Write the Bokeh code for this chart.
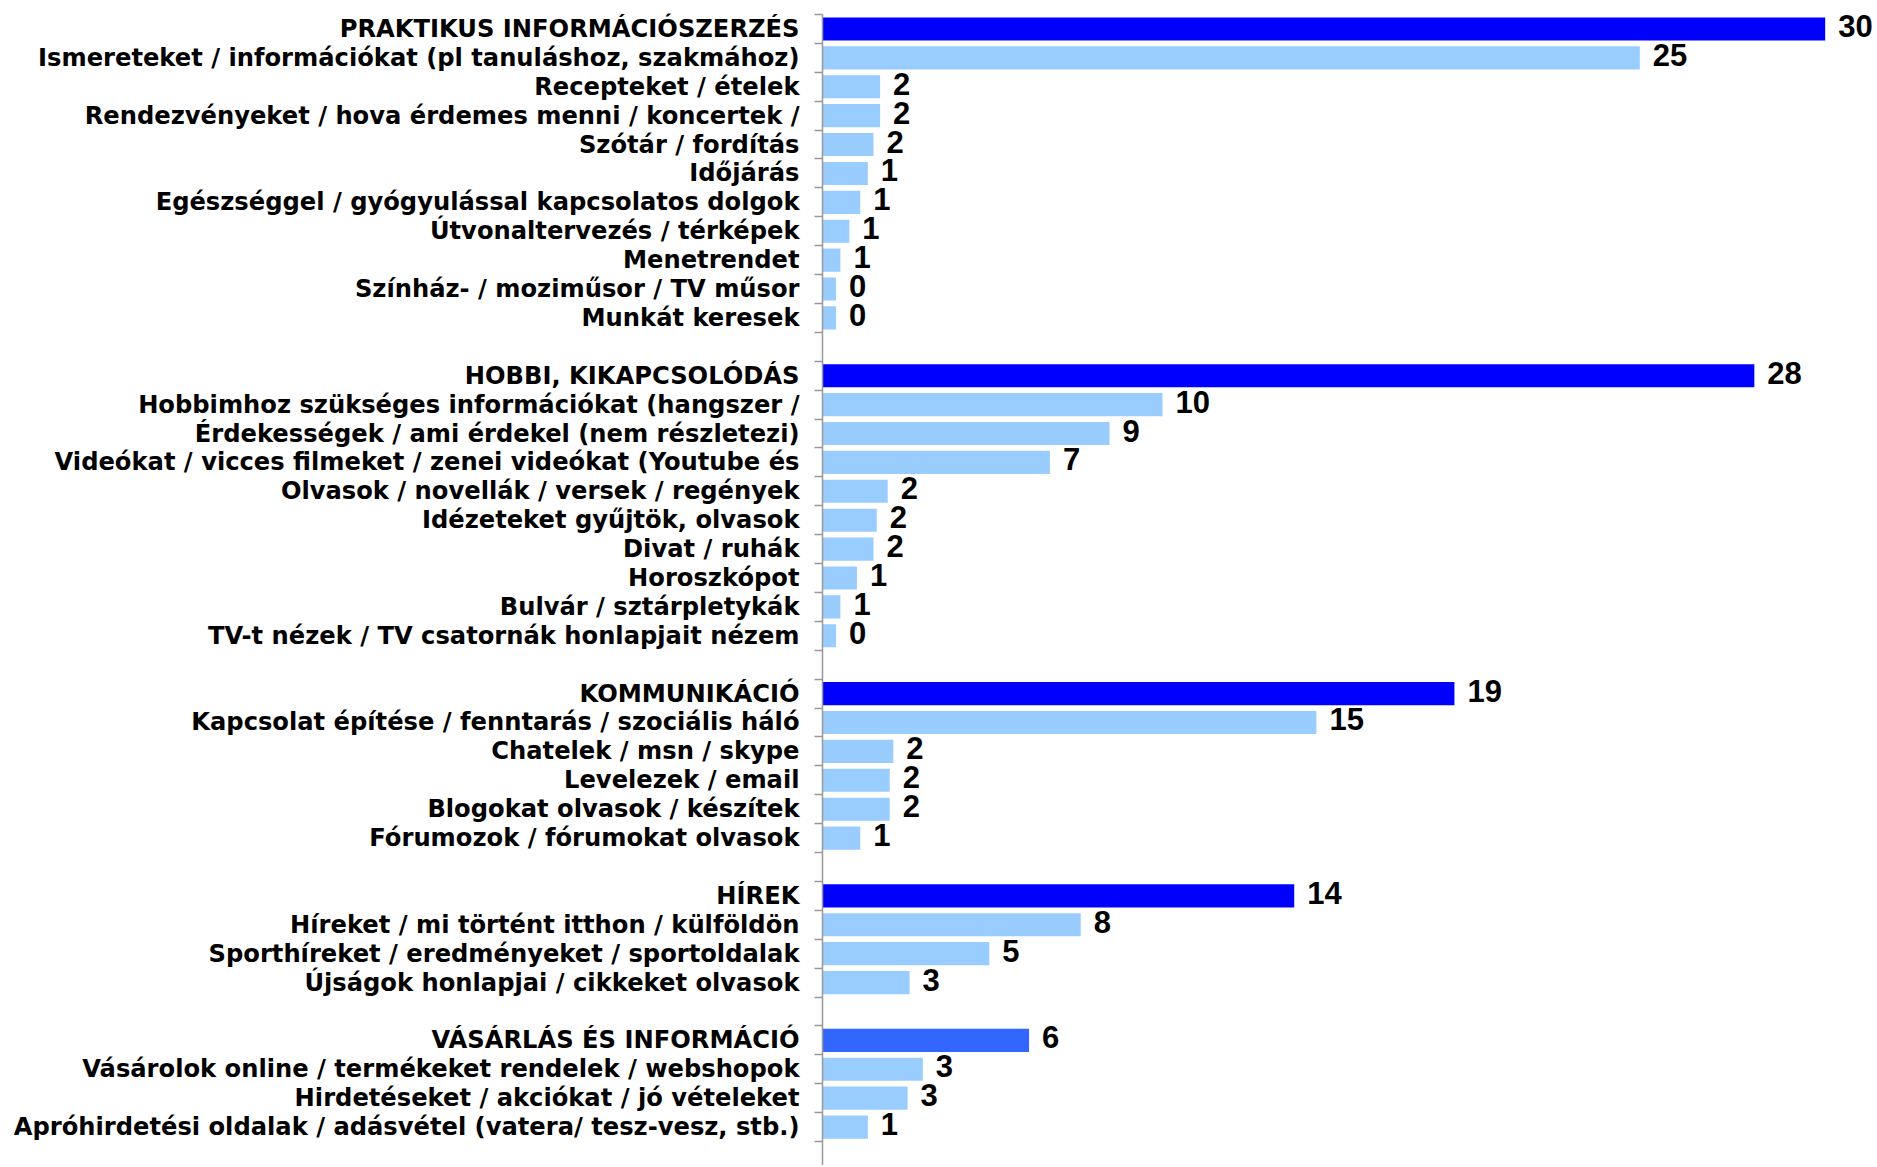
from bokeh.plotting import figure
from bokeh.models import ColumnDataSource, FixedTicker, Range1d
from bokeh.core.properties import value
from bokeh.embed import file_html
from bokeh.resources import INLINE

# ---- data ----
praktikus_labels = [
    "PRAKTIKUS INFORMÁCIÓSZERZÉS",
    "Ismereteket / információkat (pl tanuláshoz, szakmához)",
    "Recepteket / ételek",
    "Rendezvényeket / hova érdemes menni / koncertek /",
    "Szótár / fordítás",
    "Időjárás",
    "Egészséggel / gyógyulással kapcsolatos dolgok",
    "Útvonaltervezés / térképek",
    "Menetrendet",
    "Színház- / moziműsor / TV műsor",
    "Munkát keresek",
]
praktikus_values = [30.29, 24.69, 1.74, 1.74, 1.54, 1.37, 1.14, 0.81, 0.54, 0.41, 0.41]

hobbi_labels = [
    "HOBBI, KIKAPCSOLÓDÁS",
    "Hobbimhoz szükséges információkat (hangszer /",
    "Érdekességek / ami érdekel (nem részletezi)",
    "Videókat / vicces filmeket / zenei videókat (Youtube és",
    "Olvasok / novellák / versek / regények",
    "Idézeteket gyűjtök, olvasok",
    "Divat / ruhák",
    "Horoszkópot",
    "Bulvár / sztárpletykák",
    "TV-t nézek / TV csatornák honlapjait nézem",
]
hobbi_values = [28.15, 10.27, 8.67, 6.87, 1.97, 1.64, 1.54, 1.04, 0.54, 0.41]

kommunikacio_labels = [
    "KOMMUNIKÁCIÓ",
    "Kapcsolat építése / fenntarás / szociális háló",
    "Chatelek / msn / skype",
    "Levelezek / email",
    "Blogokat olvasok / készítek",
    "Fórumozok / fórumokat olvasok",
]
kommunikacio_values = [19.09, 14.92, 2.14, 2.03, 2.03, 1.14]

hirek_labels = [
    "HÍREK",
    "Híreket / mi történt itthon / külföldön",
    "Sporthíreket / eredményeket / sportoldalak",
    "Újságok honlapjai / cikkeket olvasok",
]
hirek_values = [14.25, 7.80, 5.04, 2.63]

vasarlas_labels = [
    "VÁSÁRLÁS ÉS INFORMÁCIÓ",
    "Vásárolok online / termékeket rendelek / webshopok",
    "Hirdetéseket / akciókat / jó vételeket",
    "Apróhirdetési oldalak / adásvétel (vatera/ tesz-vesz, stb.)",
]
vasarlas_values = [6.24, 3.03, 2.57, 1.37]

header_colors = ["#0000FF", "#0000FF", "#0000FF", "#0000FF", "#3366FF"]
sub_color = "#99CCFF"

groups = [
    (praktikus_labels, praktikus_values),
    (hobbi_labels, hobbi_values),
    (kommunikacio_labels, kommunikacio_values),
    (hirek_labels, hirek_values),
    (vasarlas_labels, vasarlas_values),
]

ys, labels, vals, colors, texts = [], [], [], [], []
pos = 0
for gi, (labs, vs) in enumerate(groups):
    for j, (lab, v) in enumerate(zip(labs, vs)):
        ys.append(pos)
        labels.append(lab)
        vals.append(v)
        colors.append(header_colors[gi] if j == 0 else sub_color)
        texts.append(str(int(round(v))))
        pos += 1
    pos += 1
n_slots = pos - 1

src = ColumnDataSource(dict(y=ys, v=vals, color=colors, txt=texts))

p = figure(
    width=1875, height=1165,
    output_backend="svg", toolbar_location=None,
    x_range=Range1d(0, 31.81), y_range=Range1d(39.33, -0.5),
    min_border_left=822, min_border_right=0, min_border_top=14, min_border_bottom=0,
    x_axis_location=None,
)
p.outline_line_color = None
p.grid.grid_line_color = None
p.background_fill_color = "white"

p.hbar(y="y", left=0, right="v", height=0.8, fill_color="color", line_color=None, source=src)
p.text(x="v", y="y", text="txt", source=src, x_offset=13, y_offset=-3,
       text_align="left", text_baseline="middle",
       text_font=value("Liberation Sans"), text_font_style="bold",
       text_font_size="31px", text_color="black")

ax = p.yaxis[0]
ax.ticker = FixedTicker(ticks=ys, minor_ticks=[k - 0.5 for k in range(n_slots + 1)])
ax.major_label_overrides = {y: lab for y, lab in zip(ys, labels)}
ax.major_label_text_font = "DejaVu Sans"
ax.major_label_text_font_style = "bold"
ax.major_label_text_font_size = "24.2px"
ax.major_label_text_color = "black"
ax.major_label_standoff = 15
ax.major_tick_line_color = None
ax.major_tick_out = 0
ax.major_tick_in = 0
ax.minor_tick_line_color = "#999999"
ax.minor_tick_line_width = 1.5
ax.minor_tick_out = 8
ax.minor_tick_in = 0
ax.axis_line_color = "#999999"
ax.axis_line_width = 1.5

open("out.html", "w").write(file_html(p, INLINE))
